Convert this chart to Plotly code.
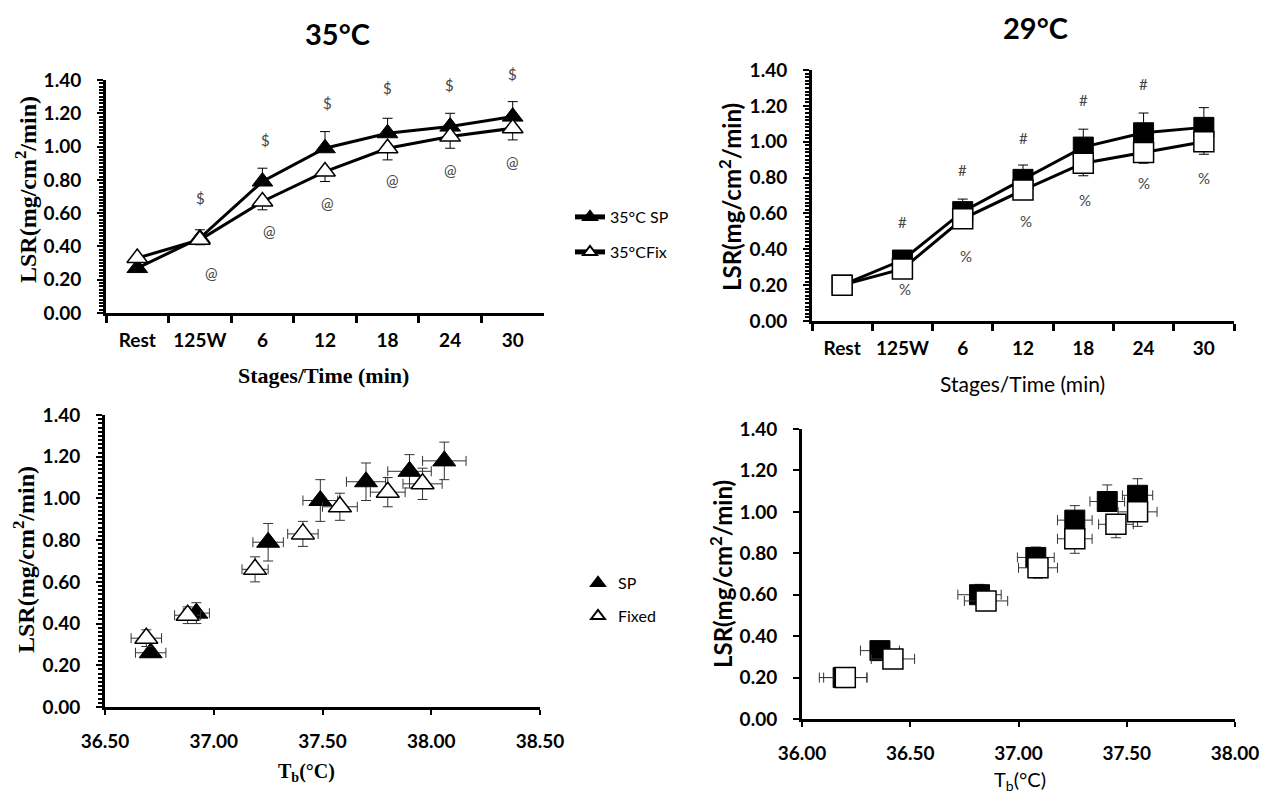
import plotly.graph_objects as go

W, H = 1267, 794          # target picture size
OFF = 8                   # page body margin in the browser
FW, FH = W - OFF, H - OFF  # figure size so that it fits the window exactly

# ---------------- data ----------------
stages = ["Rest", "125W", "6", "12", "18", "24", "30"]

# 35 °C : LSR by stage
lsr35_sp = [0.27, 0.45, 0.79, 0.99, 1.08, 1.12, 1.18]
lsr35_sp_err = [0.00, 0.05, 0.08, 0.10, 0.09, 0.08, 0.09]
lsr35_fix = [0.33, 0.44, 0.67, 0.85, 0.99, 1.06, 1.11]
lsr35_fix_err = [0.00, 0.03, 0.05, 0.06, 0.07, 0.07, 0.07]

# 29 °C : LSR by stage
lsr29_sp = [0.20, 0.34, 0.61, 0.79, 0.97, 1.05, 1.08]
lsr29_sp_err = [0.02, 0.03, 0.07, 0.08, 0.10, 0.11, 0.11]
lsr29_fix = [0.20, 0.29, 0.57, 0.73, 0.88, 0.94, 1.00]
lsr29_fix_err = [0.02, 0.03, 0.05, 0.05, 0.07, 0.06, 0.07]

# 35 °C : LSR vs Tb
tb35_sp = [36.71, 36.92, 37.25, 37.49, 37.70, 37.90, 38.06]
tb35_sp_xerr = [0.07, 0.06, 0.07, 0.08, 0.09, 0.10, 0.10]
lsr35b_sp = [0.26, 0.45, 0.79, 0.99, 1.08, 1.13, 1.18]
lsr35b_sp_err = [0.02, 0.05, 0.09, 0.10, 0.09, 0.08, 0.09]
tb35_fix = [36.69, 36.88, 37.19, 37.41, 37.58, 37.80, 37.96]
tb35_fix_xerr = [0.07, 0.06, 0.06, 0.07, 0.08, 0.08, 0.09]
lsr35b_fix = [0.33, 0.44, 0.66, 0.83, 0.96, 1.03, 1.07]
lsr35b_fix_err = [0.04, 0.04, 0.06, 0.06, 0.065, 0.07, 0.075]

# 29 °C : LSR vs Tb
tb29_sp = [36.19, 36.36, 36.82, 37.08, 37.26, 37.41, 37.55]
tb29_sp_xerr = [0.11, 0.09, 0.10, 0.085, 0.08, 0.08, 0.07]
lsr29b_sp = [0.20, 0.33, 0.60, 0.78, 0.96, 1.05, 1.08]
lsr29b_sp_err = [0.02, 0.04, 0.05, 0.05, 0.07, 0.08, 0.08]
tb29_fix = [36.20, 36.42, 36.85, 37.09, 37.26, 37.45, 37.55]
tb29_fix_xerr = [0.10, 0.10, 0.10, 0.09, 0.08, 0.08, 0.09]
lsr29b_fix = [0.20, 0.29, 0.57, 0.73, 0.87, 0.94, 1.00]
lsr29b_fix_err = [0.02, 0.03, 0.04, 0.05, 0.07, 0.065, 0.07]

# significance marks
sig35_sp_cats = ["125W", "6", "12", "18", "24", "30"]
sig35_sp_y = [0.69, 1.04, 1.26, 1.35, 1.37, 1.40]
sig35_fix_cats = ["125W", "6", "12", "18", "24", "30"]
sig35_fix_y = [0.24, 0.49, 0.66, 0.80, 0.86, 0.91]
sig29_sp_cats = ["125W", "6", "12", "18", "24"]
sig29_sp_y = [0.55, 0.84, 1.02, 1.23, 1.32]
sig29_fix_cats = ["125W", "6", "12", "18", "24", "30"]
sig29_fix_y = [0.18, 0.36, 0.56, 0.675, 0.77, 0.80]

# ---------------- style helpers ----------------
SANS = "Lato, 'Open Sans', sans-serif"
SERIF = "'Liberation Serif', 'DejaVu Serif', serif"


def px(x):
    return (x - OFF) / FW


def py(y):
    return 1 - (y - OFF) / FH


def dx(a, b):
    return [px(a), px(b)]


def dy(top, bottom):
    return [py(bottom), py(top)]


zeros = [0] * 7

fig = go.Figure()

# ---- top-left: 35 °C stages ----
fig.add_trace(go.Scatter(
    x=stages, y=lsr35_sp, mode="lines+markers", name="35°C SP",
    line=dict(color="black", width=3),
    marker=dict(symbol="triangle-up", size=18, color="black", line=dict(color="black", width=1)),
    error_y=dict(type="data", symmetric=False, array=lsr35_sp_err, arrayminus=zeros,
                 color="black", thickness=1, width=5),
    xaxis="x", yaxis="y", legend="legend"))
fig.add_trace(go.Scatter(
    x=stages, y=lsr35_fix, mode="lines+markers", name="35°CFix",
    line=dict(color="black", width=3),
    marker=dict(symbol="triangle-up", size=18, color="white", line=dict(color="black", width=1.5)),
    error_y=dict(type="data", symmetric=False, array=zeros, arrayminus=lsr35_fix_err,
                 color="black", thickness=1, width=5),
    xaxis="x", yaxis="y", legend="legend2"))

# ---- top-right: 29 °C stages ----
fig.add_trace(go.Scatter(
    x=stages, y=lsr29_sp, mode="lines+markers", name="29°C SP", showlegend=False,
    line=dict(color="black", width=3),
    marker=dict(symbol="square", size=20, color="black", line=dict(color="black", width=1)),
    error_y=dict(type="data", symmetric=False, array=lsr29_sp_err, arrayminus=zeros,
                 color="black", thickness=1, width=5),
    xaxis="x2", yaxis="y2"))
fig.add_trace(go.Scatter(
    x=stages, y=lsr29_fix, mode="lines+markers", name="29°C Fix", showlegend=False,
    line=dict(color="black", width=3),
    marker=dict(symbol="square", size=20, color="white", line=dict(color="black", width=1.5)),
    error_y=dict(type="data", symmetric=False, array=zeros, arrayminus=lsr29_fix_err,
                 color="black", thickness=1, width=5),
    xaxis="x2", yaxis="y2"))

# ---- bottom-left: 35 °C vs Tb ----
fig.add_trace(go.Scatter(
    x=tb35_sp, y=lsr35b_sp, mode="markers", name="SP",
    marker=dict(symbol="triangle-up", size=20, color="black", line=dict(color="black", width=1)),
    error_x=dict(type="data", array=tb35_sp_xerr, color="#333333", thickness=1, width=5),
    error_y=dict(type="data", array=lsr35b_sp_err, color="#333333", thickness=1, width=5),
    xaxis="x3", yaxis="y3", legend="legend3"))
fig.add_trace(go.Scatter(
    x=tb35_fix, y=lsr35b_fix, mode="markers", name="Fixed",
    marker=dict(symbol="triangle-up", size=20, color="white", line=dict(color="black", width=1.5)),
    error_x=dict(type="data", array=tb35_fix_xerr, color="#333333", thickness=1, width=5),
    error_y=dict(type="data", array=lsr35b_fix_err, color="#333333", thickness=1, width=5),
    xaxis="x3", yaxis="y3", legend="legend4"))

# ---- bottom-right: 29 °C vs Tb ----
fig.add_trace(go.Scatter(
    x=tb29_sp, y=lsr29b_sp, mode="markers", name="SP 29", showlegend=False,
    marker=dict(symbol="square", size=20, color="black", line=dict(color="black", width=1)),
    error_x=dict(type="data", array=tb29_sp_xerr, color="#333333", thickness=1, width=5),
    error_y=dict(type="data", symmetric=False, array=lsr29b_sp_err, arrayminus=zeros,
                 color="#333333", thickness=1, width=5),
    xaxis="x4", yaxis="y4"))
fig.add_trace(go.Scatter(
    x=tb29_fix, y=lsr29b_fix, mode="markers", name="Fixed 29", showlegend=False,
    marker=dict(symbol="square", size=20, color="white", line=dict(color="black", width=1.5)),
    error_x=dict(type="data", array=tb29_fix_xerr, color="#333333", thickness=1, width=5),
    error_y=dict(type="data", symmetric=False, array=zeros, arrayminus=lsr29b_fix_err,
                 color="#333333", thickness=1, width=5),
    xaxis="x4", yaxis="y4"))

# ---------------- axes ----------------
tickfont = dict(family=SANS, size=19, color="black", weight="bold")
line_common = dict(showline=True, linecolor="black", linewidth=3, showgrid=False,
                   zeroline=False, ticks="outside", tickcolor="black", tickfont=tickfont,
                   automargin=False)
minor = dict(dtick=0.02, ticklen=4, tickwidth=1.5, ticks="outside", tickcolor="black")


def yax(domain, anchor, with_minor=True):
    d = dict(line_common, domain=domain, anchor=anchor, range=[0, 1.4], dtick=0.2,
             tickformat=".2f", ticklen=6, tickwidth=2, ticklabelstandoff=12)
    if with_minor:
        d["minor"] = minor
    return d


def xcat(domain, anchor):
    return dict(line_common, domain=domain, anchor=anchor, type="category",
                categoryorder="array", categoryarray=stages, tickson="boundaries",
                range=[-0.5, len(stages) - 0.5], tickangle=0,
                ticklen=7, tickwidth=2.5, ticklabelstandoff=8)


def xnum(domain, anchor, rng):
    return dict(line_common, domain=domain, anchor=anchor, range=rng, dtick=0.5,
                tickformat=".2f", ticklen=5, tickwidth=2, ticklabelstandoff=10)


fig.update_layout(
    xaxis=xcat(dx(106, 544), "y"),
    yaxis=yax(dy(80, 313), "x"),
    xaxis2=xcat(dx(812, 1234), "y2"),
    yaxis2=yax(dy(70, 321), "x2"),
    xaxis3=xnum(dx(105, 540), "y3", [36.5, 38.5]),
    yaxis3=yax(dy(415, 707), "x3"),
    xaxis4=xnum(dx(802, 1235), "y4", [36.0, 38.0]),
    yaxis4=yax(dy(429, 719), "x4", with_minor=False),
)

# ---------------- legends ----------------
legfont = dict(family=SANS, size=16, color="black")
legbase = dict(xanchor="left", yanchor="middle", bgcolor="rgba(0,0,0,0)",
               borderwidth=0, itemsizing="constant", font=legfont)
fig.update_layout(
    legend=dict(legbase, x=px(570), y=py(217)),
    legend2=dict(legbase, x=px(570), y=py(252)),
    legend3=dict(legbase, x=px(578), y=py(583)),
    legend4=dict(legbase, x=px(578), y=py(616)),
)

# ---------------- text annotations ----------------
ann = []


def paper_text(text, x, y, font, angle=0):
    ann.append(dict(text=text, x=px(x), y=py(y), xref="paper", yref="paper",
                    showarrow=False, xanchor="center", yanchor="middle",
                    textangle=angle, font=font))


title_font = dict(family=SANS, size=29, color="black", weight="bold")
paper_text("35°C", 337, 33, title_font)
paper_text("29°C", 1035, 27, title_font)

serif_b = dict(family=SERIF, size=24, color="black", weight="bold")
sans_b = dict(family=SANS, size=24, color="black", weight="bold")
ytitle = "LSR(mg/cm<sup>2</sup>/min)"
paper_text(ytitle, 26, 190, serif_b, -90)
paper_text(ytitle, 730, 197, sans_b, -90)
paper_text(ytitle, 24, 560, serif_b, -90)
paper_text(ytitle, 721, 574, sans_b, -90)

paper_text("Stages/Time (min)", 323, 375, dict(family=SERIF, size=22, color="black", weight="bold"))
paper_text("Stages/Time (min)", 1022, 383, dict(family=SANS, size=21, color="black"))
paper_text("T<sub>b</sub>(°C)", 306, 772, dict(family=SERIF, size=20, color="black", weight="bold"))
paper_text("T<sub>b</sub>(°C)", 1020, 780, dict(family=SANS, size=20, color="black"))

mark_font = dict(family=SANS, size=15, color="#444444")


def marks(symbol, cats, ys, xa, ya, shifts=None):
    for i, (c, v) in enumerate(zip(cats, ys)):
        ann.append(dict(text=symbol, x=stages.index(c), y=v, xref=xa, yref=ya,
                        showarrow=False,
                        xshift=(shifts[i] if shifts else 0),
                        yshift=(6 if v >= 1.4 else 0), font=mark_font))


marks("$", sig35_sp_cats, sig35_sp_y, "x", "y", [1, 3, 2, 0, -1, 0])
marks("@", sig35_fix_cats, sig35_fix_y, "x", "y", [12, 7, 2, 5, 0, 0])
marks("#", sig29_sp_cats, sig29_sp_y, "x2", "y2")
marks("%", sig29_fix_cats, sig29_fix_y, "x2", "y2", [3, 3, 3, 2, 0, 0])

fig.update_layout(
    annotations=ann,
    width=FW, height=FH,
    margin=dict(l=0, r=0, t=0, b=0, autoexpand=False),
    paper_bgcolor="white", plot_bgcolor="white",
    font=dict(family=SANS, color="black"),
)

fig.write_html("out.html")
